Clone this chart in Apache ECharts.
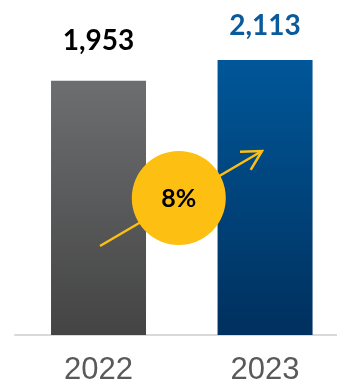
<!DOCTYPE html>
<html>
<head>
<meta charset="utf-8">
<script src="https://cdn.jsdelivr.net/npm/echarts@6/dist/echarts.min.js"></script>
<style>html,body{margin:0;padding:0;background:#fff}#c{width:337px;height:391px}</style>
</head>
<body>
<div id="c"></div>
<script>
const categories = ['2022', '2023'];
const values = [1953, 2113];
const labelColors = ['#000000', '#0A5A9C'];

const growth = Math.round((values[1] - values[0]) / values[0] * 100) + '%';

const chart = echarts.init(document.getElementById('c'), null, {renderer: 'canvas'});
const grads = [
  new echarts.graphic.LinearGradient(0, 0, 0, 1, [{offset: 0, color: '#6d6e70'}, {offset: 1, color: '#444444'}]),
  new echarts.graphic.LinearGradient(0, 0, 0, 1, [{offset: 0, color: '#005799'}, {offset: 1, color: '#00305e'}])
];
const labelDist = [26, 20];
chart.setOption({
  animation: false,
  grid: {left: 15, right: 0, top: 60, bottom: 56, containLabel: false},
  xAxis: {
    type: 'value', min: -0.5015, max: 1.432,
    splitLine: {show: false},
    axisLine: {show: true, onZero: false, lineStyle: {color: '#d9d9d9', width: 2}},
    axisTick: {show: false},
    axisLabel: {show: false}
  },
  yAxis: {type: 'value', min: 0, max: 2113, show: false, splitLine: {show: false}},
  series: [{
    type: 'bar', barWidth: 95,
    data: values.map((v, i) => ({
      value: [i, v],
      itemStyle: {color: grads[i]},
      label: {show: true, position: 'top', distance: labelDist[i], color: labelColors[i],
        fontSize: 28, fontWeight: 'bold', fontFamily: 'Lato, sans-serif',
        formatter: p => p.value[1].toLocaleString('en-US')}
    }))
  }, {
    // category labels under the axis
    type: 'scatter', symbolSize: 0, silent: true,
    itemStyle: {opacity: 1, color: 'rgba(0,0,0,0)'},
    data: categories.map((c, i) => [i, 0]),
    label: {show: true, position: 'bottom', distance: 20,
      formatter: p => categories[p.value[0]],
      color: '#595959', fontSize: 31, fontFamily: 'Liberation Sans, Arial, sans-serif'}
  }]
});

// annotation: growth circle and arrow, placed relative to axes
const p0 = chart.convertToPixel({gridIndex: 0}, [0, 0]);
const p1 = chart.convertToPixel({gridIndex: 0}, [1, 0]);
const cx = (p0[0] + p1[0]) / 2 - 3;
const cy = 198;
const ax0 = [100, 246], ax1 = [262, 151];
const ang = Math.atan2(ax1[1] - ax0[1], ax1[0] - ax0[0]);
const hl = 22, ha = 0.5;
const h1 = [ax1[0] - hl * Math.cos(ang - ha), ax1[1] - hl * Math.sin(ang - ha)];
const h2 = [ax1[0] - hl * Math.cos(ang + ha), ax1[1] - hl * Math.sin(ang + ha)];
const yellow = '#FDBF12';
chart.setOption({
  graphic: [
    {type: 'line', shape: {x1: ax0[0], y1: ax0[1], x2: ax1[0], y2: ax1[1]}, style: {stroke: yellow, lineWidth: 2.5}, z: 10},
    {type: 'polyline', shape: {points: [h1, ax1, h2]}, style: {stroke: yellow, lineWidth: 2.5, fill: null}, z: 10},
    {type: 'circle', shape: {cx: cx, cy: cy, r: 47}, style: {fill: yellow}, z: 11},
    {type: 'text', x: cx, y: cy + 1, style: {text: growth, fill: '#000', fontSize: 25, fontWeight: 'bold', fontFamily: 'Lato, sans-serif', align: 'center', verticalAlign: 'middle'}, z: 12}
  ]
});
</script>
</body>
</html>
